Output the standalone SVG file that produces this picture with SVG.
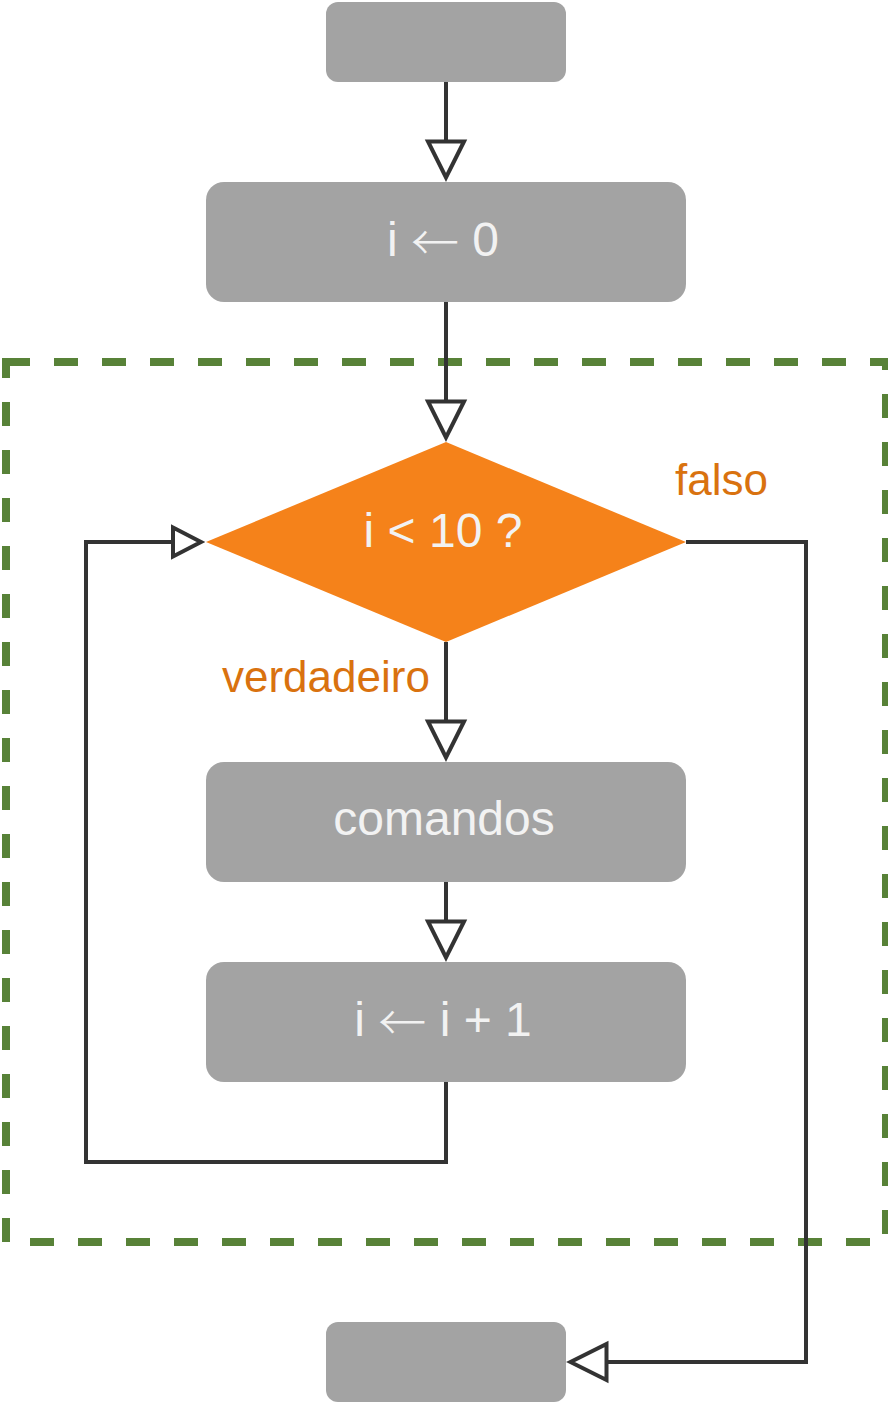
<svg xmlns="http://www.w3.org/2000/svg" width="888" height="1404" viewBox="0 0 888 1404">
  <style>
    .box { fill: #A3A3A3; }
    .dia { fill: #F5821A; }
    .lbl { font-family: "Liberation Sans", Arial, sans-serif; font-size: 48px; fill: #F2F2F2; text-anchor: middle; }
    .arr { font-family: "Noto Sans CJK SC", "DejaVu Sans", sans-serif; font-weight: 300; }
    .edge { font-family: "Liberation Sans", Arial, sans-serif; font-size: 44px; fill: #D9720F; }
    .conn { fill: none; stroke: #333333; stroke-width: 4; stroke-linejoin: miter; }
    .frame { fill: none; stroke: #588238; stroke-width: 8; stroke-dasharray: 24 24; stroke-linejoin: miter; }
  </style>
  <defs>
    <marker id="arrow" markerUnits="userSpaceOnUse" viewBox="-6 -24 48 48" markerWidth="48" markerHeight="48" refX="36" refY="0" orient="auto" overflow="visible">
      <path d="M0,-18 L36,0 L0,18 Z" fill="#FFFFFF" stroke="#333333" stroke-width="4" stroke-linejoin="miter"/>
    </marker>
    <marker id="arrowSmall" markerUnits="userSpaceOnUse" viewBox="-6 -24 48 48" markerWidth="48" markerHeight="48" refX="28" refY="0" orient="auto" overflow="visible">
      <path d="M0,-14.5 L28,0 L0,14.5 Z" fill="#FFFFFF" stroke="#333333" stroke-width="4" stroke-linejoin="miter"/>
    </marker>
  </defs>

  <rect width="888" height="1404" fill="#FFFFFF"/>

  <g id="loop-frame">
    <path class="frame" d="M6,362 L886,362 L886,1242 L6,1242 Z"/>
  </g>

  <g id="connectors">
    <path class="conn" d="M446,82 L446,177.5" marker-end="url(#arrow)"/>
    <path class="conn" d="M446,302 L446,437.5" marker-end="url(#arrow)"/>
    <path class="conn" d="M446,642 L446,757.5" marker-end="url(#arrow)"/>
    <path class="conn" d="M446,882 L446,957.5" marker-end="url(#arrow)"/>
    <path class="conn" d="M446,1082 L446,1162 L86,1162 L86,542 L201,542" marker-end="url(#arrowSmall)"/>
    <path class="conn" d="M686,542 L806,542 L806,1362 L570.5,1362" marker-end="url(#arrow)"/>
  </g>

  <g id="start">
    <rect class="box" x="326" y="2" width="240" height="80" rx="12" ry="12"/>
  </g>

  <g id="init">
    <rect class="box" x="206" y="182" width="480" height="120" rx="18" ry="18"/>
    <text class="lbl" x="443" y="256">i <tspan class="arr" dy="4">←</tspan><tspan dy="-4"> 0</tspan></text>
  </g>

  <g id="condition">
    <polygon class="dia" points="446,442 686,542 446,642 206,542"/>
    <text class="lbl" x="443" y="547">i &lt; 10 ?</text>
  </g>

  <g id="label-falso">
    <text class="edge" x="675" y="495">falso</text>
  </g>

  <g id="label-verdadeiro">
    <text class="edge" x="222" y="692">verdadeiro</text>
  </g>

  <g id="commands">
    <rect class="box" x="206" y="762" width="480" height="120" rx="18" ry="18"/>
    <text class="lbl" x="444" y="835">comandos</text>
  </g>

  <g id="increment">
    <rect class="box" x="206" y="962" width="480" height="120" rx="18" ry="18"/>
    <text class="lbl" x="443" y="1036">i <tspan class="arr" dy="4">←</tspan><tspan dy="-4"> i + 1</tspan></text>
  </g>

  <g id="end">
    <rect class="box" x="326" y="1322" width="240" height="80" rx="12" ry="12"/>
  </g>
</svg>
